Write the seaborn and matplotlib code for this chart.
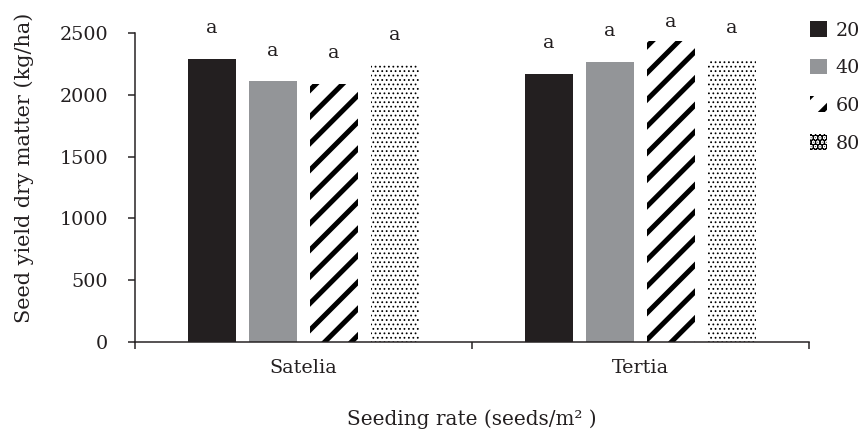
import numpy as np
import pandas as pd
import seaborn as sns
import matplotlib
matplotlib.use("Agg")
import matplotlib.pyplot as plt
from matplotlib.patches import Patch

# ---- data ----
cultivars = ["Satelia", "Tertia"]
seeding_rates = ["20", "40", "60", "80"]
yield_satelia = [2290, 2110, 2090, 2240]
yield_tertia = [2170, 2270, 2440, 2290]
letters_satelia = ["a", "a", "a", "a"]
letters_tertia = ["a", "a", "a", "a"]

rows = []
for cv, vals, lets in [("Satelia", yield_satelia, letters_satelia),
                       ("Tertia", yield_tertia, letters_tertia)]:
    for r, v, l in zip(seeding_rates, vals, lets):
        rows.append({"cultivar": cv, "rate": r, "yield": v, "letter": l})
df = pd.DataFrame(rows)

DPI = 80
W, H = 858, 432


def pt(px):
    return px * 72.0 / DPI


sns.set_style("white")
plt.rcParams["font.family"] = ["DejaVu Serif"]
plt.rcParams["hatch.linewidth"] = pt(5.0)
plt.rcParams["hatch.color"] = "black"

FS = pt(19.2)
TXT = "#231f20"
fills = ["#231f20", "#939598", "white", "white"]
hatches = [None, None, "/", "..."]
DOT_LW = pt(1.0)

fig = plt.figure(figsize=(W / DPI, H / DPI), dpi=DPI)
ax = fig.add_axes([135 / W, 1 - 341.7 / H, (809 - 135) / W, (341.7 - 33.3) / H])

sns.barplot(data=df, x="cultivar", y="yield", hue="rate", order=cultivars,
            hue_order=seeding_rates, palette=fills, width=0.724, gap=0.21,
            legend=False, ax=ax, saturation=1, linewidth=0, errorbar=None)


def set_hlw(p, lw):
    if hasattr(p, "set_hatch_linewidth"):
        p.set_hatch_linewidth(lw)
    else:
        p._hatch_linewidth = lw


for cont, fc, h in zip(ax.containers, fills, hatches):
    for p in cont.patches:
        p.set_facecolor(fc)
        if h is not None:
            p.set_hatch(h)
            p.set_edgecolor("black")
            p.set_linewidth(0)
            if h.startswith("."):
                set_hlw(p, DOT_LW)

# significance letters
for cont, rate in zip(ax.containers, seeding_rates):
    for p, cv in zip(cont.patches, cultivars):
        row = df[(df.cultivar == cv) & (df.rate == rate)].iloc[0]
        y = min(row["yield"] + 250, 2590)
        ax.text(p.get_x() + p.get_width() / 2, y, row["letter"], ha="center",
                va="center", fontsize=FS, color=TXT, clip_on=False)

ax.set_ylim(0, 2500)
ax.set_xlim(-0.5, 1.5)
ax.set_yticks(np.arange(0, 2501, 500))
ax.set_xticks([-0.5, 0.5, 1.5])
ax.set_xticklabels([])
ax.set_xticks([0, 1], minor=True)
ax.set_xticklabels(cultivars, minor=True)
ax.tick_params(axis="x", which="major", direction="out", length=pt(7), width=pt(1.5),
               color=TXT, bottom=True)
ax.tick_params(axis="x", which="minor", length=0, pad=pt(17), labelsize=FS,
               labelcolor=TXT, bottom=True)
ax.tick_params(axis="y", direction="out", length=pt(7), width=pt(1.5), color=TXT,
               pad=pt(20), labelsize=FS, labelcolor=TXT, left=True)

for s in ["top", "right"]:
    ax.spines[s].set_visible(False)
for s in ["left", "bottom"]:
    ax.spines[s].set_color(TXT)
    ax.spines[s].set_linewidth(pt(1.5))

AH = 341.7 - 33.3
ax.set_ylabel("Seed yield dry matter (kg/ha)", fontsize=FS * 1.08, color=TXT)
ax.set_xlabel("Seeding rate (seeds/m² )", fontsize=FS * 1.04, color=TXT)
ax.yaxis.set_label_coords((34 - 135) / (809 - 135), (341.7 - 167.5) / AH)
ax.xaxis.set_label_coords(0.5, -(409 - 341.7) / AH)

handles = []
for fc, h in zip(fills, hatches):
    if h is None:
        handles.append(Patch(facecolor=fc, edgecolor=fc, linewidth=0))
    else:
        hp = Patch(facecolor=fc, edgecolor="black", linewidth=0, hatch=h)
        if h.startswith("."):
            set_hlw(hp, DOT_LW)
        handles.append(hp)

fig.legend(handles, seeding_rates, loc="upper left",
           bbox_to_anchor=(810 / W, 1 - 21 / H), frameon=False,
           fontsize=FS, labelcolor=TXT, handlelength=0.885, handleheight=0.885,
           handletextpad=0.45, labelspacing=1.0, borderaxespad=0, borderpad=0)

fig.savefig("out.png", dpi=DPI)
